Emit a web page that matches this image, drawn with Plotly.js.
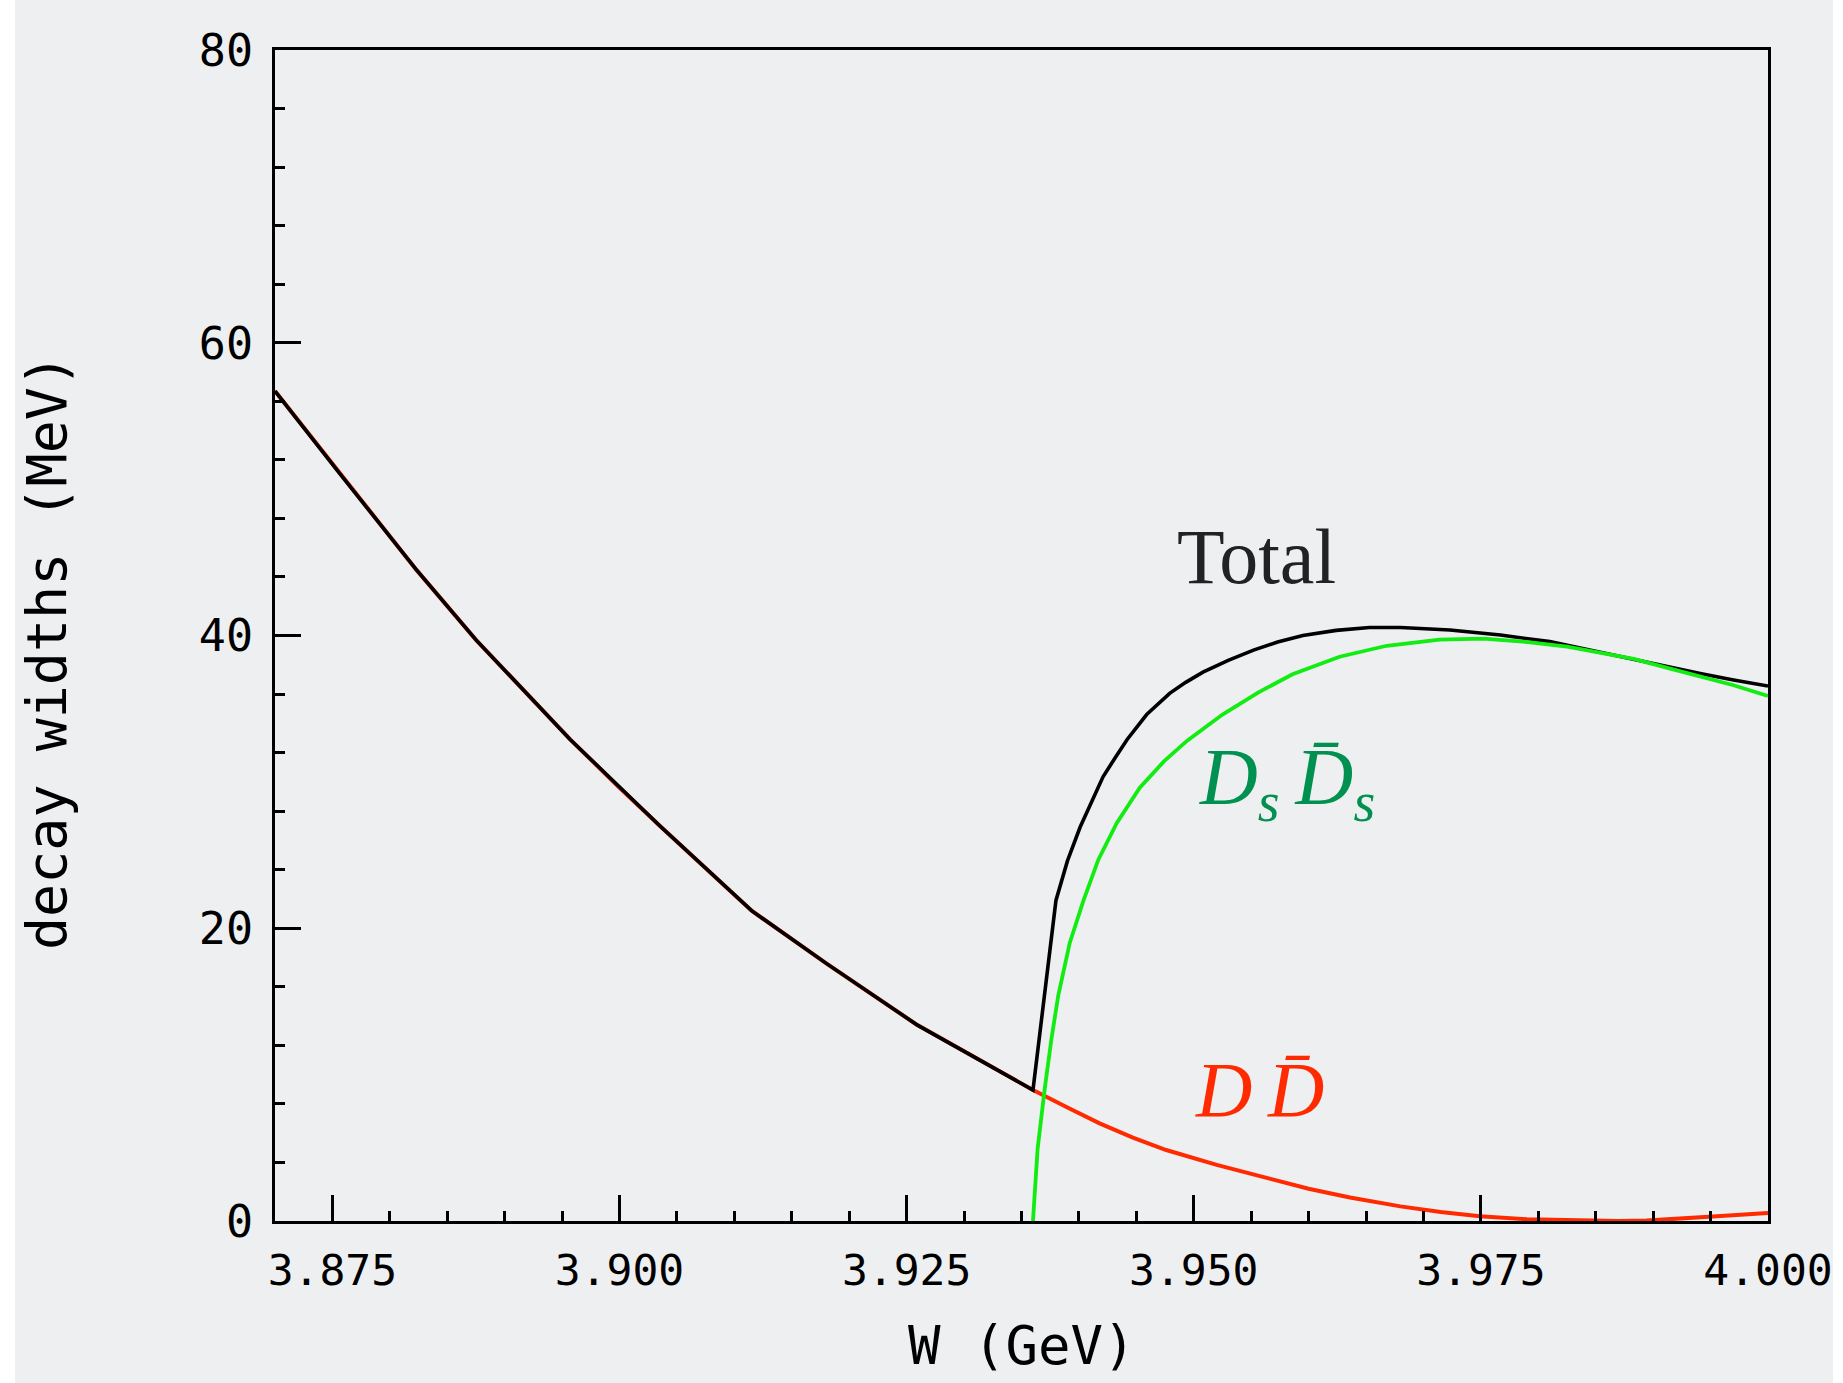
<!DOCTYPE html>
<html>
<head>
<meta charset="utf-8">
<script src="https://cdn.plot.ly/plotly-3.0.1.min.js"></script>
<style>html,body{margin:0;padding:0;background:#fff;}</style>
</head>
<body>
<div id="chart" style="width:1843px;height:1383px;"></div>
<script>
// W (GeV) and decay widths (MeV)
const ddbarW = [3.870, 3.8754, 3.8823, 3.8875, 3.8957, 3.9000, 3.9035, 3.9115, 3.9180, 3.9259, 3.9360,
                3.9390, 3.9418, 3.9447, 3.9476, 3.9520, 3.9563, 3.9600, 3.9636, 3.9680, 3.9715, 3.9749,
                3.9790, 3.9836, 3.9870, 3.9894, 3.9925, 3.9952, 3.9976, 4.000];
const ddbarGamma = [56.7, 51.3, 44.5, 39.7, 32.9, 29.6, 27.0, 21.2, 17.6, 13.4, 8.95,
                    7.75, 6.67, 5.70, 4.85, 3.83, 2.92, 2.20, 1.60, 1.00, 0.62, 0.32,
                    0.12, 0.02, 0.0, 0.03, 0.14, 0.30, 0.42, 0.55];

const dsdsW = [3.9360, 3.9364, 3.9370, 3.9376, 3.9382, 3.9392, 3.9404, 3.9417, 3.9433, 3.9453, 3.9474,
               3.9494, 3.9525, 3.9556, 3.9586, 3.9627, 3.9668, 3.9714, 3.9752, 3.9791, 3.9825, 3.9853,
               3.9883, 3.9914, 3.9941, 3.9970, 4.000];
const dsdsGamma = [0.0, 4.9, 8.9, 12.4, 15.4, 19.0, 21.9, 24.7, 27.2, 29.6, 31.4,
                   32.8, 34.6, 36.1, 37.35, 38.55, 39.3, 39.72, 39.78, 39.55, 39.24, 38.85,
                   38.4, 37.75, 37.2, 36.6, 35.87];

const totalW = [3.870, 3.8754, 3.8823, 3.8875, 3.8957, 3.9000, 3.9035, 3.9115, 3.9180, 3.9259, 3.9360,
                3.9380, 3.9390, 3.9401, 3.9411, 3.9421, 3.9432, 3.9442, 3.9459, 3.9479, 3.9493, 3.9508,
                3.9530, 3.9552, 3.9573, 3.9595, 3.9624, 3.9653, 3.9680, 3.9723, 3.9767, 3.9810, 3.9854,
                3.9883, 3.9912, 3.9941, 3.9970, 4.000];
const totalGamma = [56.7, 51.3, 44.5, 39.7, 32.9, 29.6, 27.0, 21.2, 17.6, 13.4, 8.95,
                    21.9, 24.6, 26.9, 28.7, 30.35, 31.7, 32.9, 34.6, 36.05, 36.8, 37.5,
                    38.3, 39.0, 39.55, 40.0, 40.35, 40.55, 40.55, 40.38, 40.03, 39.58, 38.85,
                    38.35, 37.87, 37.4, 36.96, 36.55];

const xTickVals = [3.875, 3.900, 3.925, 3.950, 3.975, 4.000];
const xTickText = ["3.875", "3.900", "3.925", "3.950", "3.975", "4.000"];
const yTickVals = [0, 20, 40, 60, 80];
const yTickText = ["0", "20", "40", "60", "80"];

const labelTotal = "Total";
const labelDsDs = "<i>D<sub>s</sub>\u2009D\u0304<sub>s</sub></i>";
const labelDD = "<i>D\u2009D\u0304</i>";

const traces = [
  {x: ddbarW, y: ddbarGamma, mode: 'lines', line: {color: '#ff2a00', width: 4}, name: 'DDbar'},
  {x: totalW, y: totalGamma, mode: 'lines', line: {color: '#000000', width: 3.6}, name: 'Total'},
  {x: dsdsW, y: dsdsGamma, mode: 'lines', line: {color: '#12ec12', width: 3.8}, name: 'DsDsbar'}
];

const monoFont = 'DejaVu Sans Mono, Liberation Mono, monospace';

const axisCommon = {
  showline: true, linecolor: '#000', linewidth: 3, mirror: true,
  showgrid: false, zeroline: false,
  ticks: 'inside', ticklen: 26, tickwidth: 3, tickcolor: '#000'
};

const layout = {
  width: 1843, height: 1383,
  margin: {l: 275, r: 75, t: 50, b: 162, pad: 0},
  paper_bgcolor: '#ffffff',
  plot_bgcolor: 'rgba(0,0,0,0)',
  showlegend: false,
  xaxis: Object.assign({}, axisCommon, {
    range: [3.87, 4.0],
    tickmode: 'array', tickvals: xTickVals, ticktext: xTickText,
    tickfont: {family: monoFont, size: 43, color: '#000'},
    ticklabelstandoff: 9,
    minor: {dtick: 0.005, tick0: 3.87, ticks: 'inside', ticklen: 10, tickwidth: 3, tickcolor: '#000', showgrid: false}
  }),
  yaxis: Object.assign({}, axisCommon, {
    range: [0, 80],
    tickmode: 'array', tickvals: yTickVals, ticktext: yTickText,
    tickfont: {family: monoFont, size: 45, color: '#000'},
    ticklabelstandoff: 10,
    minor: {dtick: 4, tick0: 0, ticks: 'inside', ticklen: 10, tickwidth: 3, tickcolor: '#000', showgrid: false}
  }),
  shapes: [
    {type: 'rect', xref: 'paper', yref: 'paper', layer: 'below',
     x0: -0.1741, x1: 1.0435, y0: -0.1390, y1: 1.0430,
     fillcolor: '#eeeff1', line: {width: 0}}
  ],
  annotations: [
    {text: 'W (GeV)', xref: 'paper', yref: 'paper', x: 0.5, y: -0.1059,
     xanchor: 'center', yanchor: 'middle', showarrow: false,
     font: {family: monoFont, size: 54, color: '#000'}},
    {text: 'decay widths (MeV)', xref: 'paper', yref: 'paper', x: -0.1527, y: 0.4859,
     xanchor: 'center', yanchor: 'middle', showarrow: false, textangle: -90,
     font: {family: monoFont, size: 55, color: '#000'}},
    {text: labelTotal, xref: 'x', yref: 'y', x: 3.9555, y: 45.4,
     xanchor: 'center', yanchor: 'middle', showarrow: false,
     font: {family: 'Liberation Serif, DejaVu Serif, serif', size: 78, color: '#222'}},
    {text: labelDsDs, xref: 'x', yref: 'y', x: 3.9503, y: 29.9,
     xanchor: 'left', yanchor: 'middle', showarrow: false,
     font: {family: 'Liberation Serif, DejaVu Serif, serif', size: 80, color: '#009150'}},
    {text: labelDD, xref: 'x', yref: 'y', x: 3.9499, y: 8.95,
     xanchor: 'left', yanchor: 'middle', showarrow: false,
     font: {family: 'Liberation Serif, DejaVu Serif, serif', size: 78, color: '#ff2a00'}}
  ]
};

Plotly.newPlot('chart', traces, layout, {displayModeBar: false, staticPlot: true});
</script>
</body>
</html>
